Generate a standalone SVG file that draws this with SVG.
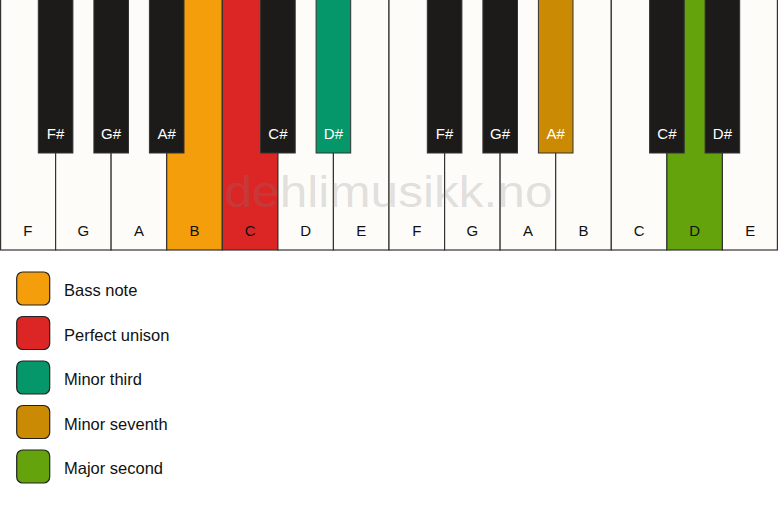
<svg xmlns="http://www.w3.org/2000/svg" width="778" height="506" viewBox="0 0 778 506">
<style>
.w{fill:#fdfcf8;stroke:#333;stroke-width:1.2}
.b{fill:#1c1b1a;stroke:#333;stroke-width:1}
.lw{font-family:"Liberation Sans",Arial,sans-serif;font-size:15px;fill:#111;text-anchor:middle}
.lb{font-family:"Liberation Sans",Arial,sans-serif;font-size:15px;fill:#fff;text-anchor:middle}
.lg{font-family:"Liberation Sans",Arial,sans-serif;font-size:16.5px;fill:#111}
.sw{stroke:#222;stroke-width:1.2}
</style>
<rect width="778" height="506" fill="#ffffff"/>
<g id="white-keys">
<g id="k-F1"><rect class="w" x="0.6" y="-1" width="55.0" height="251"/><text class="lw" x="27.8" y="236">F</text></g>
<g id="k-G1"><rect class="w" x="55.6" y="-1" width="55.6" height="251"/><text class="lw" x="83.4" y="236">G</text></g>
<g id="k-A1"><rect class="w" x="111.1" y="-1" width="55.6" height="251"/><text class="lw" x="138.9" y="236">A</text></g>
<g id="k-B1"><rect class="w" x="166.7" y="-1" width="55.6" height="251" style="fill:#f59e0b"/><text class="lw" x="194.5" y="236">B</text></g>
<g id="k-C1"><rect class="w" x="222.3" y="-1" width="55.6" height="251" style="fill:#dc2626"/><text class="lw" x="250.1" y="236">C</text></g>
<g id="k-D1"><rect class="w" x="277.9" y="-1" width="55.6" height="251"/><text class="lw" x="305.7" y="236">D</text></g>
<g id="k-E1"><rect class="w" x="333.4" y="-1" width="55.6" height="251"/><text class="lw" x="361.2" y="236">E</text></g>
<g id="k-F2"><rect class="w" x="389" y="-1" width="55.6" height="251"/><text class="lw" x="416.8" y="236">F</text></g>
<g id="k-G2"><rect class="w" x="444.6" y="-1" width="55.6" height="251"/><text class="lw" x="472.4" y="236">G</text></g>
<g id="k-A2"><rect class="w" x="500.1" y="-1" width="55.6" height="251"/><text class="lw" x="527.9" y="236">A</text></g>
<g id="k-B2"><rect class="w" x="555.7" y="-1" width="55.6" height="251"/><text class="lw" x="583.5" y="236">B</text></g>
<g id="k-C2"><rect class="w" x="611.3" y="-1" width="55.6" height="251"/><text class="lw" x="639.1" y="236">C</text></g>
<g id="k-D2"><rect class="w" x="666.9" y="-1" width="55.6" height="251" style="fill:#65a30d"/><text class="lw" x="694.7" y="236">D</text></g>
<g id="k-E2"><rect class="w" x="722.4" y="-1" width="55.0" height="251"/><text class="lw" x="750.2" y="236">E</text></g>
</g>
<text x="388.5" y="207" font-family="'Liberation Sans',Arial,sans-serif" font-size="45" fill="#808080" fill-opacity="0.24" text-anchor="middle" textLength="328" lengthAdjust="spacingAndGlyphs">dehlimusikk.no</text>
<g id="black-keys">
<g id="k-Fs1"><rect class="b" x="38.3" y="-1" width="34.6" height="154"/><text class="lb" x="55.6" y="139">F#</text></g>
<g id="k-Gs1"><rect class="b" x="93.9" y="-1" width="34.6" height="154"/><text class="lb" x="111.1" y="139">G#</text></g>
<g id="k-As1"><rect class="b" x="149.4" y="-1" width="34.6" height="154"/><text class="lb" x="166.7" y="139">A#</text></g>
<g id="k-Cs1"><rect class="b" x="260.6" y="-1" width="34.6" height="154"/><text class="lb" x="277.9" y="139">C#</text></g>
<g id="k-Ds1"><rect class="b" x="316.1" y="-1" width="34.6" height="154" style="fill:#059669"/><text class="lb" x="333.4" y="139">D#</text></g>
<g id="k-Fs2"><rect class="b" x="427.3" y="-1" width="34.6" height="154"/><text class="lb" x="444.6" y="139">F#</text></g>
<g id="k-Gs2"><rect class="b" x="482.9" y="-1" width="34.6" height="154"/><text class="lb" x="500.1" y="139">G#</text></g>
<g id="k-As2"><rect class="b" x="538.4" y="-1" width="34.6" height="154" style="fill:#ca8a04"/><text class="lb" x="555.7" y="139">A#</text></g>
<g id="k-Cs2"><rect class="b" x="649.6" y="-1" width="34.6" height="154"/><text class="lb" x="666.9" y="139">C#</text></g>
<g id="k-Ds2"><rect class="b" x="705.1" y="-1" width="34.6" height="154"/><text class="lb" x="722.4" y="139">D#</text></g>
</g>
<g id="legend">
<g id="lg-bass"><rect class="sw" x="16.7" y="272" width="33" height="33" rx="6" fill="#f59e0b"/><text class="lg" x="64" y="296">Bass note</text></g>
<g id="lg-unison"><rect class="sw" x="16.7" y="316.5" width="33" height="33" rx="6" fill="#dc2626"/><text class="lg" x="64" y="340.5">Perfect unison</text></g>
<g id="lg-minor3"><rect class="sw" x="16.7" y="361" width="33" height="33" rx="6" fill="#059669"/><text class="lg" x="64" y="385">Minor third</text></g>
<g id="lg-minor7"><rect class="sw" x="16.7" y="405.5" width="33" height="33" rx="6" fill="#ca8a04"/><text class="lg" x="64" y="429.5">Minor seventh</text></g>
<g id="lg-major2"><rect class="sw" x="16.7" y="450" width="33" height="33" rx="6" fill="#65a30d"/><text class="lg" x="64" y="474">Major second</text></g>
</g>
</svg>
